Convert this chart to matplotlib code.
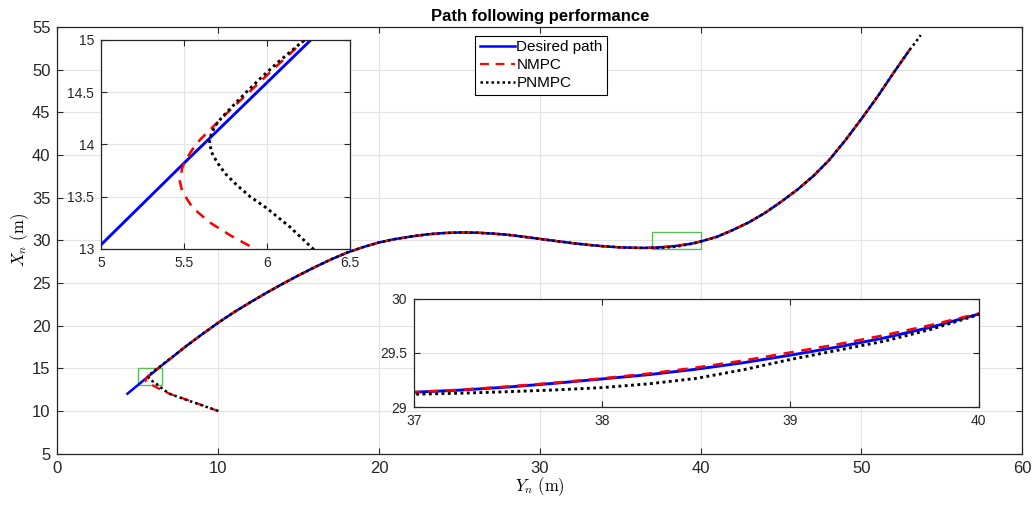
import matplotlib
matplotlib.use("Agg")
import matplotlib.pyplot as plt
from matplotlib.patches import Rectangle

plt.rcParams["font.family"] = ["Liberation Sans", "DejaVu Sans"]
plt.rcParams["mathtext.fontset"] = "cm"

# --- data (Y_n on horizontal axis, X_n on vertical axis) ---
# start of each run, up to where the trajectories rejoin the path
des_start_y = [4.35, 5.0, 5.5, 6.0, 6.5, 7.0]
des_start_x = [12.03, 13.04, 13.82, 14.59, 15.36, 16.1]

nmpc_start_y = [10.0, 9.0, 8.0, 7.0, 6.5, 6.2, 5.93, 5.78, 5.65, 5.55, 5.49, 5.475,
                5.49, 5.515, 5.55, 5.6, 5.67, 5.76, 5.86, 5.98, 6.1, 6.23, 6.5, 7.0]
nmpc_start_x = [10.0, 10.68, 11.35, 12.0, 12.45, 12.73, 13.0, 13.13, 13.26, 13.4, 13.55, 13.65,
                13.78, 13.86, 13.95, 14.05, 14.16, 14.3, 14.45, 14.63, 14.81, 15.0, 15.39, 16.1]

pnmpc_start_y = [10.0, 9.0, 8.0, 7.0, 6.6, 6.28, 6.14, 6.0, 5.9, 5.82, 5.75, 5.7, 5.665,
                 5.655, 5.665, 5.69, 5.73, 5.79, 5.87, 5.96, 6.07, 6.22, 6.5, 7.0]
pnmpc_start_x = [10.0, 10.66, 11.32, 12.0, 12.5, 13.0, 13.21, 13.39, 13.5, 13.61, 13.72, 13.83, 13.93,
                 14.03, 14.1, 14.18, 14.26, 14.36, 14.49, 14.63, 14.79, 14.99, 15.4, 16.12]

# section where all three curves coincide
mid_y = [8.0, 9.0, 10.0, 11.0, 12.0, 13.0, 14.0, 15.0, 16.0, 17.0, 18.0, 19.0, 20.0,
         21.0, 22.0, 23.0, 24.0, 25.0, 26.0, 27.0, 28.0, 29.0, 30.0, 31.0, 32.0,
         33.0, 34.0, 35.0, 36.0]
mid_x = [17.6, 19.0, 20.35, 21.6, 22.75, 23.85, 24.9, 25.9, 26.85, 27.75, 28.55, 29.2, 29.75,
         30.15, 30.45, 30.7, 30.85, 30.92, 30.9, 30.8, 30.65, 30.42, 30.17, 29.92, 29.68,
         29.47, 29.3, 29.18, 29.12]

# zoomed section near the valley
zoom_y = [36.5, 37.0, 37.25, 37.5, 37.75, 38.0, 38.25, 38.5, 38.75, 39.0, 39.25, 39.5, 39.75, 40.0]
des_zoom_x = [29.115, 29.137, 29.157, 29.185, 29.22, 29.26, 29.30, 29.35, 29.41, 29.48, 29.555, 29.64, 29.74, 29.86]
nmpc_zoom_x = [29.115, 29.137, 29.16, 29.19, 29.225, 29.265, 29.31, 29.365, 29.43, 29.505, 29.58, 29.665, 29.76, 29.865]
pnmpc_zoom_x = [29.105, 29.118, 29.128, 29.142, 29.158, 29.18, 29.215, 29.265, 29.345, 29.44, 29.525, 29.61, 29.72, 29.855]

end_y = [41.0, 42.0, 43.0, 44.0, 45.0, 46.0, 47.0, 48.0, 49.0, 50.0, 51.0, 52.0, 53.0]
end_x = [30.4, 31.2, 32.1, 33.2, 34.5, 35.9, 37.5, 39.4, 41.7, 44.2, 46.8, 49.6, 52.3]

pnmpc_extra_y = [53.25, 53.45, 53.7]
pnmpc_extra_x = [52.9, 53.4, 54.05]

des_y = des_start_y + mid_y + zoom_y + end_y
des_x = des_start_x + mid_x + des_zoom_x + end_x
nmpc_y = nmpc_start_y + mid_y + zoom_y + end_y
nmpc_x = nmpc_start_x + mid_x + nmpc_zoom_x + end_x
pnmpc_y = pnmpc_start_y + mid_y + zoom_y + end_y + pnmpc_extra_y
pnmpc_x = pnmpc_start_x + mid_x + pnmpc_zoom_x + end_x + pnmpc_extra_x

frame = "#262626"
gridc = "#e3e3e3"


def style(ax, size, pad):
    ax.grid(True, color=gridc, linewidth=0.8)
    ax.set_axisbelow(True)
    ax.tick_params(direction="in", top=True, right=True, length=4, width=0.8,
                   colors=frame, labelsize=size, pad=pad)
    for s in ax.spines.values():
        s.set_color(frame)
        s.set_linewidth(0.9)


def draw(ax, w=1.0):
    ax.plot(des_y, des_x, color="blue", lw=1.8 * w, label="Desired path")
    ax.plot(nmpc_y, nmpc_x, color="red", lw=1.6 * w, ls=(0, (4, 3)), label="NMPC")
    ax.plot(pnmpc_y, pnmpc_x, color="black", lw=1.8 * w, ls=(0, (1, 1.2)), label="PNMPC")


fig = plt.figure(figsize=(10.36, 5.05), dpi=100)
ax = fig.add_axes([0.0555, 0.1016, 0.931, 0.845])
draw(ax)
style(ax, 12, 5)
ax.set_xlim(0, 60)
ax.set_ylim(5, 55)
ax.set_xticks(range(0, 61, 10))
ax.set_yticks(range(5, 56, 5))
ax.set_title("Path following performance", fontsize=12, fontweight="bold", pad=4)
ax.set_xlabel(r"$Y_n\ \mathrm{(m)}$", fontsize=12, labelpad=0)
ax.set_ylabel(r"$X_n\ \mathrm{(m)}$", fontsize=12, labelpad=1)

green = "#5abf5a"
ax.add_patch(Rectangle((5, 13), 1.5, 2, fill=False, edgecolor=green, lw=1))
ax.add_patch(Rectangle((37, 29), 3, 2, fill=False, edgecolor=green, lw=1))

leg = ax.legend(loc="upper left", bbox_to_anchor=(0.4585, 0.929), bbox_transform=fig.transFigure,
                fontsize=11, frameon=True, fancybox=False, edgecolor="black", framealpha=1,
                handlelength=2.3, handletextpad=0.1, labelspacing=0.25, borderpad=0.3,
                borderaxespad=0)
leg.get_frame().set_linewidth(0.8)

# inset: start of the run
ax1 = fig.add_axes([0.0975, 0.507, 0.24, 0.414])
draw(ax1, 1.15)
style(ax1, 10, 5)
ax1.set_xlim(5, 6.5)
ax1.set_ylim(13, 15)
ax1.set_xticks([5, 5.5, 6, 6.5])
ax1.set_xticklabels(["5", "5.5", "6", "6.5"])
ax1.set_yticks([13, 13.5, 14, 14.5, 15])
ax1.set_yticklabels(["13", "13.5", "14", "14.5", "15"])

# inset: valley section
ax2 = fig.add_axes([0.3996, 0.194, 0.545, 0.214])
draw(ax2, 1.15)
style(ax2, 10, 5)
ax2.set_xlim(37, 40)
ax2.set_ylim(29, 30)
ax2.set_xticks([37, 38, 39, 40])
ax2.set_yticks([29, 29.5, 30])
ax2.set_yticklabels(["29", "29.5", "30"])

fig.savefig("out.png", dpi=100)
